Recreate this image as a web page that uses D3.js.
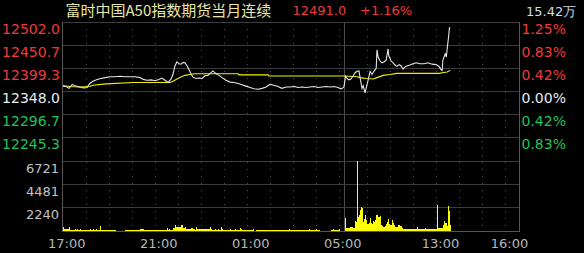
<!DOCTYPE html>
<html><head><meta charset="utf-8">
<script src="https://cdn.jsdelivr.net/npm/d3@7"></script>
<style>html,body{margin:0;padding:0;background:#000;} svg{display:block}</style>
</head><body><svg id="c" width="584" height="253"></svg>
<script>
// ---------- data ----------
const title = "富时中国A50指数期货当月连续";
const lastPrice = "12491.0";
const lastChange = "+1.16%";
const totalVol = "15.42万";
const prevClose = 12348.0;
const priceTicks = [12502.0, 12450.7, 12399.3, 12348.0, 12296.7, 12245.3];
const pctTicks = ["1.25%", "0.83%", "0.42%", "0.00%", "0.42%", "0.83%"];
const volTicks = [6721, 4481, 2240];
const timeLabels = ["17:00", "21:00", "01:00", "05:00", "13:00", "16:00"];
// [trading minutes since 17:00 open (05:15-09:00 break removed), price]
const priceSeries = [[0,12360],[8,12359],[16,12355],[24,12364],[31,12361],[39,12359],[47,12357],[55,12356],[63,12357],[70,12366],[78,12371],[89,12375],[99,12377],[110,12379],[123,12381],[136,12381],[149,12382],[162,12381],[175,12381],[188,12381],[201,12379],[209,12375],[219,12373],[230,12374],[240,12372],[250,12375],[258,12378],[266,12373],[274,12368],[282,12376],[287,12387],[292,12405],[297,12414],[303,12410],[308,12409],[313,12413],[318,12412],[324,12405],[329,12396],[334,12387],[339,12380],[347,12377],[355,12378],[363,12377],[370,12383],[378,12384],[386,12390],[391,12394],[399,12388],[407,12384],[415,12379],[425,12373],[436,12369],[446,12368],[457,12366],[467,12363],[477,12360],[488,12357],[498,12354],[509,12353],[519,12355],[530,12358],[540,12364],[550,12362],[561,12359],[571,12355],[582,12358],[592,12358],[603,12359],[613,12357],[624,12358],[634,12357],[644,12358],[655,12359],[665,12357],[676,12358],[686,12359],[697,12358],[707,12359],[717,12357],[725,12354],[730,12356],[733,12359],[737,12382],[741,12377],[746,12374],[751,12376],[757,12383],[762,12390],[767,12393],[772,12394],[777,12369],[780,12355],[783,12361],[788,12345],[790,12353],[796,12374],[801,12393],[806,12386],[811,12393],[817,12400],[819,12441],[822,12425],[827,12416],[832,12412],[837,12414],[843,12418],[848,12443],[850,12427],[856,12416],[861,12412],[866,12407],[871,12404],[877,12408],[882,12405],[887,12398],[892,12403],[897,12405],[905,12407],[913,12410],[921,12412],[931,12410],[942,12410],[952,12412],[963,12409],[973,12408],[981,12404],[986,12397],[989,12395],[991,12418],[997,12432],[1000,12425],[1003,12450],[1006,12472],[1008,12490],[1010,12491]];
const avgSeries = [[0,12361],[18,12359],[44,12358],[70,12359],[78,12362],[112,12365],[183,12368],[279,12368],[287,12371],[295,12375],[305,12379],[318,12384],[331,12386],[344,12387.5],[457,12387.5],[459,12385],[535,12385],[537,12382.5],[735,12382.5],[767,12381],[775,12379],[790,12377],[809,12376],[819,12379],[835,12384],[853,12386],[871,12388.5],[983,12388.5],[989,12390],[1002,12391.5],[1007,12394],[1010,12395]];
const volSeries = [[0,385],[3,150],[16,350],[18,100],[32,200],[34,100],[37,220],[39,130],[44,220],[46,100],[70,190],[72,100],[78,190],[81,100],[87,190],[89,100],[96,450],[98,90],[138,40],[161,90],[200,150],[209,190],[211,90],[230,100],[271,320],[274,100],[277,190],[279,100],[287,260],[292,550],[296,350],[300,385],[304,415],[309,550],[313,290],[318,430],[322,190],[326,150],[329,220],[333,150],[335,260],[338,150],[341,190],[344,140],[348,350],[350,150],[383,350],[385,150],[387,190],[389,130],[396,190],[398,130],[404,190],[407,130],[413,350],[416,190],[418,100],[436,190],[438,100],[449,190],[451,100],[461,260],[464,190],[467,100],[496,190],[498,30],[503,90],[590,170],[593,90],[631,130],[642,190],[644,130],[660,190],[662,120],[670,40],[699,100],[704,190],[707,100],[721,190],[722,0],[735,1220],[737,260],[749,350],[757,250],[762,990],[765,870],[768,6721],[770,1350],[773,1550],[775,2020],[777,2280],[780,2190],[783,870],[786,1160],[788,1540],[790,1060],[794,675],[797,580],[798,770],[801,1220],[803,770],[805,580],[807,675],[809,990],[812,870],[814,1060],[817,1540],[821,1320],[824,1350],[827,1450],[830,580],[833,480],[836,350],[838,430],[840,480],[843,675],[844,900],[849,1130],[851,675],[853,580],[857,1060],[860,770],[861,580],[866,415],[870,350],[875,580],[879,480],[883,260],[887,160],[924,350],[927,145],[944,260],[947,145],[976,2500],[979,290],[990,580],[994,990],[997,740],[1001,480],[1003,390],[1005,2410],[1008,1930],[1010,580],[1012,0]];

// ---------- helpers ----------
function tradeMin(hhmm) {
  const [h, m] = hhmm.split(":").map(Number);
  const t = h * 60 + m;
  if (h >= 17) return t - 17 * 60;
  if (t <= 5 * 60 + 15) return 7 * 60 + t;
  return 735 + (t - 9 * 60);
}

const svg = d3.select("#c");
svg.append("rect").attr("width", 584).attr("height", 253).attr("fill", "#000");

const x = d3.scaleLinear().domain([0, 1190]).range([63, 519.2]);
const y = d3.scaleLinear().domain([prevClose - 154, priceTicks[0]]).range([160.5, 22.5]);
const yv = d3.scaleLinear().domain([0, volTicks[0]]).range([231, 161]);
const px = v => Math.floor(v) + 0.5;

const L = 62.5, R = 519.5, T = 22, B = 231.5;
const gridCol = "#3c3c3c";

// vertical dotted hour lines
const hourLines = [];
for (let m = 60; m < 735; m += 60) hourLines.push(m);
for (let m = 795; m < 1190; m += 60) hourLines.push(m);
svg.append("g").selectAll("line").data(hourLines).join("line")
  .attr("x1", d => px(x(d))).attr("x2", d => px(x(d)))
  .attr("y1", T).attr("y2", B)
  .attr("stroke", "#505050").attr("stroke-width", 1).attr("stroke-dasharray", "1,6");

// session break solid line
svg.append("line").attr("x1", px(x(735))).attr("x2", px(x(735))).attr("y1", T).attr("y2", B)
  .attr("stroke", "#4a4a4a");

// horizontal grid lines
svg.append("g").selectAll("line").data(priceTicks).join("line")
  .attr("x1", L).attr("x2", R).attr("y1", d => px(y(d))).attr("y2", d => px(y(d)))
  .attr("stroke", gridCol);
svg.append("g").selectAll("line").data(volTicks).join("line")
  .attr("x1", L).attr("x2", R).attr("y1", d => px(yv(d))).attr("y2", d => px(yv(d)))
  .attr("stroke", gridCol);

// borders
svg.append("line").attr("x1", L).attr("x2", L).attr("y1", T).attr("y2", B + 0.5).attr("stroke", "#555");
svg.append("line").attr("x1", R).attr("x2", R).attr("y1", T).attr("y2", B + 0.5).attr("stroke", "#555");
svg.append("line").attr("x1", L).attr("x2", R).attr("y1", B).attr("y2", B).attr("stroke", "#555");

// volume bars
const volBars = volSeries.slice(0, -1).map((d, i) => ({ t: d[0], v: d[1], t2: volSeries[i + 1][0] }));
svg.append("g").attr("shape-rendering", "crispEdges").selectAll("rect").data(volBars.filter(d => d.v > 0)).join("rect")
  .attr("x", d => x(d.t))
  .attr("width", d => Math.max(1, x(d.t2) - x(d.t)))
  .attr("y", d => yv(d.v))
  .attr("height", d => yv(0) - yv(d.v))
  .attr("fill", "#ffff00");

// avg line
svg.append("path").datum(avgSeries)
  .attr("d", d3.line().x(d => x(d[0])).y(d => y(d[1])))
  .attr("fill", "none").attr("stroke", "#f2f200").attr("stroke-width", 1.1);

// price line
svg.append("path").datum(priceSeries)
  .attr("d", d3.line().x(d => x(d[0])).y(d => y(d[1])))
  .attr("fill", "none").attr("stroke", "#e6e6e6").attr("stroke-width", 1.1);

// axis labels
const upCol = "#ee3a3a", downCol = "#22c25a", flatCol = "#e4ecf8";
const colorFor = v => v > prevClose + 0.01 ? upCol : (v < prevClose - 0.01 ? downCol : flatCol);
const font = "'DejaVu Sans', sans-serif";

svg.append("g").selectAll("text").data(priceTicks).join("text")
  .attr("x", 60).attr("y", d => Math.floor(y(d)) + 11.5)
  .attr("text-anchor", "end").attr("font-family", font).attr("font-size", 14)
  .attr("fill", d => colorFor(d)).text(d => d.toFixed(1));

svg.append("g").selectAll("text").data(priceTicks).join("text")
  .attr("x", 521.5).attr("y", d => Math.floor(y(d)) + 11.5)
  .attr("font-family", font).attr("font-size", 14)
  .attr("fill", d => colorFor(d)).text((d, i) => pctTicks[i]);

svg.append("g").selectAll("text").data(volTicks).join("text")
  .attr("x", 59).attr("y", d => Math.floor(yv(d)) + 11.5)
  .attr("text-anchor", "end").attr("font-family", font).attr("font-size", 13)
  .attr("fill", "#c4c4c4").text(d => d);

svg.append("g").selectAll("text").data(timeLabels).join("text")
  .attr("x", d => x(tradeMin(d)) + 3.7).attr("y", 248)
  .attr("text-anchor", "middle").attr("font-family", font).attr("font-size", 13)
  .attr("fill", "#b8b8b8").text(d => d);

// header
svg.append("text").attr("x", 65.5).attr("y", 16).attr("font-family", "'Noto Sans CJK SC', sans-serif")
  .attr("font-size", 15).attr("fill", "#e8e6a8").text(title);
svg.append("text").attr("x", 292.5).attr("y", 15).attr("font-family", font).attr("font-size", 13)
  .attr("fill", upCol).text(lastPrice);
svg.append("text").attr("x", 360).attr("y", 15).attr("font-family", font).attr("font-size", 13)
  .attr("fill", upCol).text(lastChange);
svg.append("text").attr("x", 526).attr("y", 16).attr("font-family", font).attr("font-size", 13)
  .attr("fill", "#cfdcea").text(totalVol);
</script>
</body></html>
